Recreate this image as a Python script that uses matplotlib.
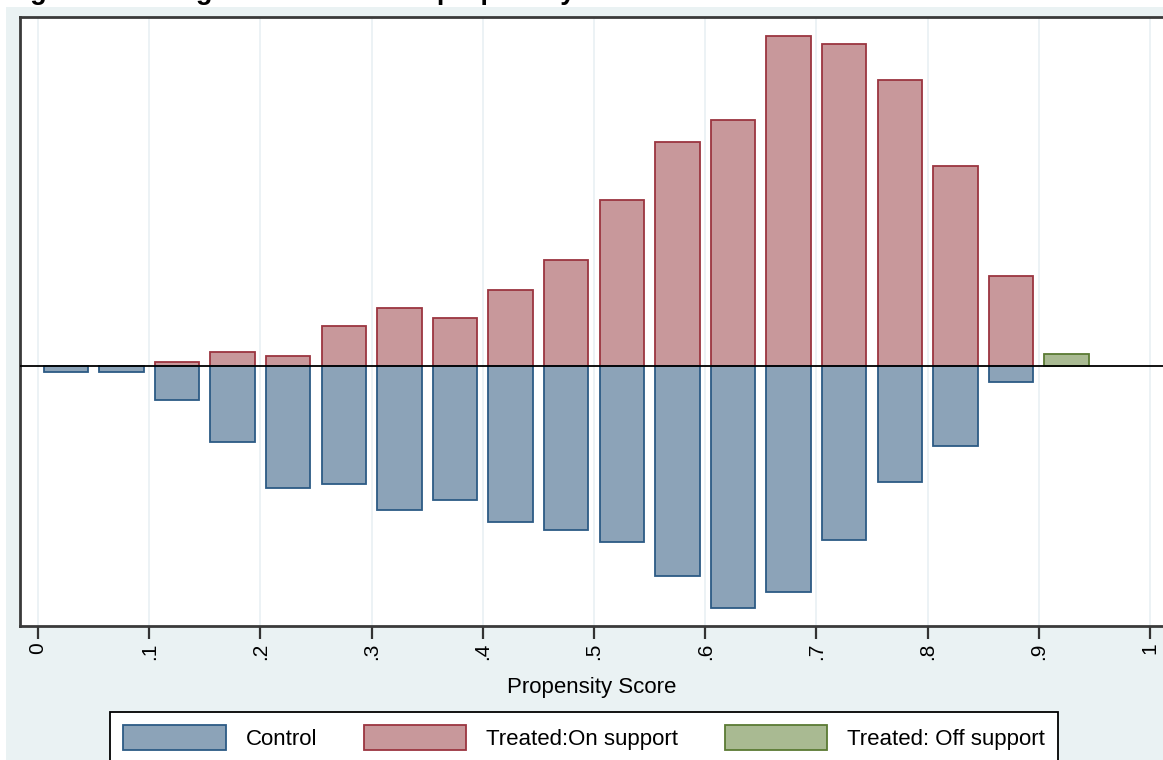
import matplotlib
matplotlib.use("Agg")
import matplotlib.pyplot as plt
from matplotlib.patches import Patch, Rectangle
import numpy as np

plt.rcParams['font.family'] = ['Liberation Sans', 'DejaVu Sans']

# propensity score bins (centres) and bar heights (frequency, arbitrary units)
bins = [0.025, 0.075, 0.125, 0.175, 0.225, 0.275, 0.325, 0.375, 0.425, 0.475,
        0.525, 0.575, 0.625, 0.675, 0.725, 0.775, 0.825, 0.875, 0.925]
treated_on = [0, 0, 2, 7, 5, 20, 29, 24, 38, 53, 83, 112, 123, 165, 161, 143, 100, 45, 0]
treated_off = [0, 0, 0, 0, 0, 0, 0, 0, 0, 0, 0, 0, 0, 0, 0, 0, 0, 0, 6]
control = [3, 3, 17, 38, 61, 59, 72, 67, 78, 82, 88, 105, 121, 113, 87, 58, 40, 8, 0]
ticks = [0, 0.1, 0.2, 0.3, 0.4, 0.5, 0.6, 0.7, 0.8, 0.9, 1.0]
tick_labels = ['0', '.1', '.2', '.3', '.4', '.5', '.6', '.7', '.8', '.9', '1']

blue_f, blue_e = '#8ca3b8', '#2c5a85'
red_f, red_e = '#c8989b', '#9b3540'
green_f, green_e = '#a9ba92', '#5a7a33'

fig = plt.figure(figsize=(11.63, 7.6), dpi=100)
fig.patches.append(Rectangle((6 / 1163, 0), 1, 753 / 760, transform=fig.transFigure,
                             facecolor='#eaf2f3', edgecolor='none', zorder=-10))

ax = fig.add_axes([20 / 1163, 134 / 760, 1143 / 1163, 609 / 760])
ax.set_facecolor('white')

w = 0.04
tr = np.array(treated_on)
mask = tr > 0
ax.bar(np.array(bins)[mask], tr[mask], width=w, color=red_f, edgecolor=red_e, linewidth=1.3, zorder=3)
off = np.array(treated_off)
m2 = off > 0
ax.bar(np.array(bins)[m2], off[m2], width=w, color=green_f, edgecolor=green_e, linewidth=1.3, zorder=3)
c = np.array(control)
m3 = c > 0
ax.bar(np.array(bins)[m3], -c[m3], width=w, color=blue_f, edgecolor=blue_e, linewidth=1.3, zorder=3)

ax.axhline(0, color='black', linewidth=1.3, zorder=4)

ax.set_xlim(-0.0162, 1.0117)
ax.set_ylim(-130, 174.5)
ax.set_yticks([])
ax.set_xticks(ticks)
ax.set_xticklabels(tick_labels, rotation=90, fontsize=15)
ax.tick_params(axis='x', length=9, width=1.6, color='#333333', pad=3)
ax.grid(axis='x', color='#e9f0f3', linewidth=1.2, zorder=0)
ax.set_axisbelow(True)

for s in ['left', 'top', 'bottom']:
    ax.spines[s].set_color('#3a3a3a')
    ax.spines[s].set_linewidth(2)
ax.spines['right'].set_visible(False)

ax.set_xlabel('Propensity Score', fontsize=16, labelpad=12)

handles = [Patch(facecolor=blue_f, edgecolor=blue_e, linewidth=1.3),
           Patch(facecolor=red_f, edgecolor=red_e, linewidth=1.3),
           Patch(facecolor=green_f, edgecolor=green_e, linewidth=1.3)]
leg = fig.legend(handles, ['Control', 'Treated:On support', 'Treated: Off support'],
                 loc='upper left', bbox_to_anchor=(110 / 1163, 48 / 760), ncol=3,
                 fontsize=16, frameon=True, fancybox=False, edgecolor='black',
                 framealpha=1, handlelength=4.6, handleheight=1.35, handletextpad=0.9,
                 columnspacing=2.1, borderpad=0.6, borderaxespad=0)
leg.get_frame().set_linewidth(1.3)

fig.text(6 / 1163, 761.5 / 760, 'Figure 2: Histogram of estimated propensity score',
         fontsize=19.5, fontweight='bold', va='baseline', ha='left')

fig.savefig('out.png', dpi=100)
